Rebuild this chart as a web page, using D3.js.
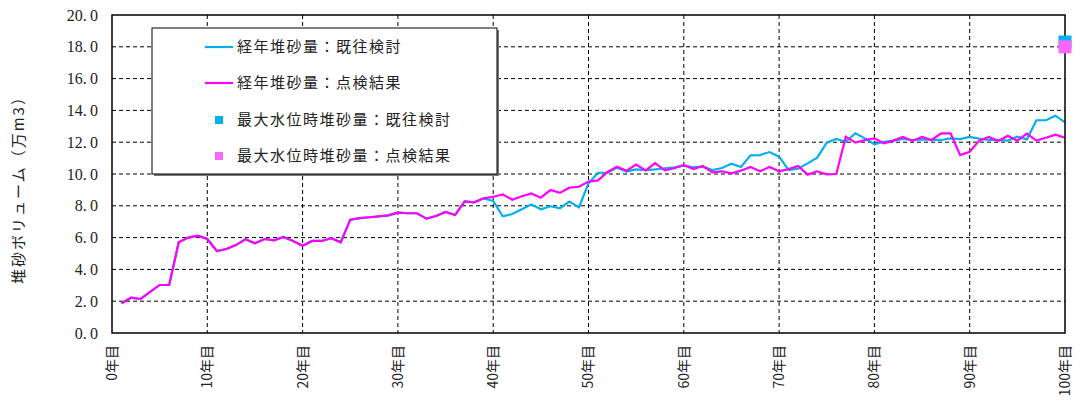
<!DOCTYPE html>
<html>
<head>
<meta charset="utf-8">
<script src="https://cdn.jsdelivr.net/npm/d3@7"></script>
<style>
  body { margin: 0; background: #fff; }
  svg { display: block; }
</style>
</head>
<body>
<svg id="chart" width="1081" height="403"></svg>
<script>
// 経年堆砂量：点検結果 (year 1..100)
const years = d3.range(1, 101);
const inspection = [
  1.87, 2.22, 2.14, 2.58, 3.02, 3.02, 5.70, 6.00, 6.12, 5.91,
  5.16, 5.28, 5.53, 5.89, 5.64, 5.91, 5.83, 6.04, 5.79, 5.49,
  5.79, 5.79, 5.96, 5.70, 7.13, 7.22, 7.28, 7.34, 7.40, 7.57,
  7.53, 7.53, 7.19, 7.36, 7.61, 7.42, 8.28, 8.22, 8.47, 8.57,
  8.72, 8.38, 8.60, 8.78, 8.51, 8.99, 8.81, 9.14, 9.20, 9.52,
  9.60, 10.13, 10.46, 10.21, 10.59, 10.23, 10.69, 10.23, 10.36, 10.57,
  10.31, 10.50, 10.10, 10.17, 10.04, 10.21, 10.44, 10.17, 10.44, 10.17,
  10.31, 10.50, 9.96, 10.17, 9.98, 10.00, 12.35, 11.97, 12.14, 12.24,
  11.93, 12.10, 12.33, 12.08, 12.33, 12.14, 12.56, 12.56, 11.19, 11.40,
  12.10, 12.33, 12.08, 12.41, 12.10, 12.54, 12.10, 12.28, 12.47, 12.28
];
// 経年堆砂量：既往検討 (same as inspection up to year 39)
const previous = inspection.slice(0, 39).concat([
  8.30, 7.34, 7.48, 7.78, 8.09, 7.78, 7.97, 7.84, 8.26, 7.90,
  9.41, 10.08, 10.08, 10.40, 10.15, 10.29, 10.25, 10.29, 10.36, 10.42,
  10.53, 10.42, 10.46, 10.25, 10.38, 10.65, 10.44, 11.17, 11.19, 11.38,
  11.09, 10.25, 10.34, 10.67, 11.03, 11.97, 12.20, 12.03, 12.56, 12.24,
  11.87, 12.03, 12.10, 12.20, 12.14, 12.18, 12.14, 12.14, 12.24, 12.20,
  12.33, 12.22, 12.14, 12.14, 12.10, 12.35, 12.18, 13.38, 13.38, 13.67, 13.25
]);
// 最大水位時堆砂量
const maxLevelYear = 100;
const maxPrevious = 18.3;
const maxInspection = 18.0;

const xTicks = d3.range(0, 101, 10);
const yTicks = d3.range(0, 20.1, 2);

const legendItems = [
  { label: '経年堆砂量：既往検討', type: 'line', color: '#00B0F0' },
  { label: '経年堆砂量：点検結果', type: 'line', color: '#FF00FF' },
  { label: '最大水位時堆砂量：既往検討', type: 'square', color: '#00B0F0' },
  { label: '最大水位時堆砂量：点検結果', type: 'square', color: '#FF66FF' }
];

const serif = '"Liberation Serif", "DejaVu Serif", serif';
const jp = '"Noto Sans CJK JP", sans-serif';

const svg = d3.select('#chart');
const margin = { left: 112, top: 15, right: 16, bottom: 70 };
const width = 1081 - margin.left - margin.right;
const height = 403 - margin.top - margin.bottom;

const g = svg.append('g').attr('transform', `translate(${margin.left},${margin.top})`);

const x = d3.scaleLinear().domain([0, 100]).range([0, width]);
const y = d3.scaleLinear().domain([0, 20]).range([height, 0]);

// grid
g.selectAll('.hgrid').data(yTicks.slice(1, -1)).enter().append('line')
  .attr('x1', 0).attr('x2', width)
  .attr('y1', d => y(d)).attr('y2', d => y(d))
  .style('stroke', '#000').style('stroke-width', 1).style('stroke-dasharray', '4,3');
g.selectAll('.vgrid').data(xTicks.slice(1, -1)).enter().append('line')
  .attr('y1', 0).attr('y2', height)
  .attr('x1', d => x(d)).attr('x2', d => x(d))
  .style('stroke', '#000').style('stroke-width', 1).style('stroke-dasharray', '4,3');

// y tick labels  (e.g. "20. 0")
g.selectAll('.ylab').data(yTicks).enter().append('text')
  .style('font-family', serif).style('font-size', '16px').style('fill', '#222')
  .attr('x', -14).attr('y', d => y(d)).attr('dy', '0.35em')
  .attr('text-anchor', 'end')
  .text(d => d3.format('.1f')(d).replace('.', '.\u2009'));

// x tick labels (rotated)
g.selectAll('.xlab').data(xTicks).enter().append('text')
  .style('font-family', jp).style('font-size', '14px').style('fill', '#222')
  .attr('transform', d => `translate(${x(d)},${height + 12}) rotate(-90)`)
  .attr('dy', '0.35em')
  .attr('text-anchor', 'end')
  .text(d => `${d}年目`);

// y title
svg.append('text')
  .style('font-family', jp).style('font-size', '15px').style('fill', '#222')
  .style('letter-spacing', '2px')
  .attr('transform', 'translate(19,186) rotate(-90)')
  .attr('text-anchor', 'middle')
  .attr('dy', '0.35em')
  .text('堆砂ボリューム（万m3）');

// lines
const line = d3.line().x((d, i) => x(years[i])).y(d => y(d));
g.append('path').datum(previous)
  .attr('d', line)
  .style('fill', 'none').style('stroke', '#00B0F0').style('stroke-width', 2.2);
g.append('path').datum(inspection)
  .attr('d', line)
  .style('fill', 'none').style('stroke', '#FF00FF').style('stroke-width', 2.2);

// frame
g.append('rect').attr('width', width).attr('height', height)
  .style('fill', 'none').style('stroke', '#000').style('stroke-width', 1.5);

// max level squares
const sq = 13;
g.append('rect')
  .attr('x', x(maxLevelYear) - sq / 2).attr('y', y(maxPrevious) - sq / 2)
  .attr('width', sq).attr('height', sq).style('fill', '#00B0F0');
g.append('rect')
  .attr('x', x(maxLevelYear) - sq / 2).attr('y', y(maxInspection) - sq / 2)
  .attr('width', sq).attr('height', sq).style('fill', '#FF66FF');

// legend
const lg = svg.append('g').attr('transform', 'translate(152,28)');
lg.append('rect').attr('x', 2).attr('y', 2).attr('width', 345).attr('height', 146).style('fill', '#777');
lg.append('rect').attr('width', 345).attr('height', 146)
  .style('fill', '#fff').style('stroke', '#000').style('stroke-width', 1);
const rowY = [19, 55, 92, 128];
legendItems.forEach((item, i) => {
  const row = lg.append('g').attr('transform', `translate(0,${rowY[i]})`);
  if (item.type === 'line') {
    row.append('line').attr('x1', 53).attr('x2', 81).attr('y1', 0).attr('y2', 0)
      .style('stroke', item.color).style('stroke-width', 2.2);
  } else {
    row.append('rect').attr('x', 63).attr('y', -4).attr('width', 8).attr('height', 8)
      .style('fill', item.color);
  }
  row.append('text')
    .style('font-family', jp).style('font-size', '15px').style('fill', '#222')
    .style('letter-spacing', '1.5px')
    .attr('x', 85).attr('dy', '0.35em')
    .text(item.label);
});
</script>
</body>
</html>
